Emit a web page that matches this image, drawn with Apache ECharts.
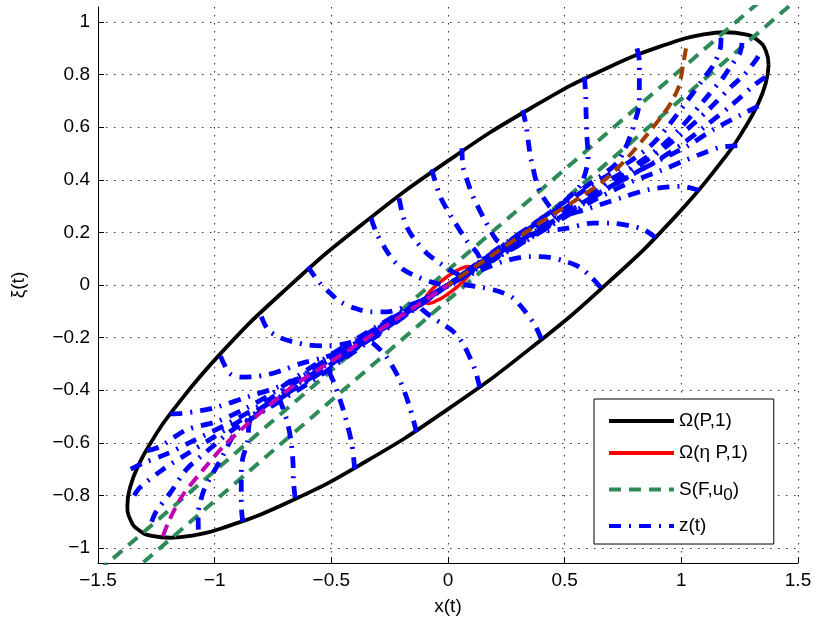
<!DOCTYPE html>
<html>
<head>
<meta charset="utf-8">
<script src="https://cdn.jsdelivr.net/npm/echarts@6/dist/echarts.min.js"></script>
<style>html,body{margin:0;padding:0;background:#fff}#c{width:817px;height:625px}</style>
</head>
<body>
<div id="c"></div>
<script>
// ---- axis ticks ----
const xTicks = [-1.5, -1, -0.5, 0, 0.5, 1, 1.5];
const yTicks = [-1, -0.8, -0.6, -0.4, -0.2, 0, 0.2, 0.4, 0.6, 0.8, 1];

// ---- Omega(P,1): outer ellipse ----
const ellipseOuter = [
  [1.374,0.837],[1.362,0.891],[1.327,0.931],[1.269,0.954],[1.190,0.961],[1.090,0.952],[0.972,0.926],
  [0.687,0.827],[0.356,0.673],[0,0.472],[-0.356,0.239],[-0.687,-0.010],[-0.972,-0.258],
  [-1.190,-0.489],[-1.269,-0.593],[-1.327,-0.686],[-1.362,-0.768],[-1.374,-0.837],[-1.362,-0.891],
  [-1.327,-0.931],[-1.269,-0.954],[-1.190,-0.961],[-1.090,-0.952],[-0.972,-0.926],[-0.687,-0.827],
  [-0.356,-0.673],[0,-0.472],[0.356,-0.239],[0.687,0.010],[0.972,0.258],[1.190,0.489],
  [1.269,0.593],[1.327,0.686],[1.362,0.768],[1.374,0.837]
];
// ---- Omega(eta P,1): small ellipse ----
const ellipseInner = [
  [0.100,0.061],[0.097,0.068],[0.087,0.070],[0.071,0.068],[0.050,0.060],[0.026,0.049],[0,0.034],
  [-0.026,0.017],[-0.050,-0.001],[-0.071,-0.019],[-0.087,-0.036],[-0.097,-0.050],[-0.100,-0.061],
  [-0.097,-0.068],[-0.087,-0.070],[-0.071,-0.068],[-0.050,-0.060],[-0.026,-0.049],[0,-0.034],
  [0.026,-0.017],[0.050,0.001],[0.071,0.019],[0.087,0.036],[0.097,0.050],[0.100,0.061]
];
// ---- S(F,u0): two parallel lines ----
const sLineUpper = [[-1.5,-1.089],[1.5,1.203]];
const sLineLower = [[-1.5,-1.203],[1.5,1.089]];

// ---- z(t) trajectories ----
const T1 = [[-0.60,0.07],[-0.555,0.013],[-0.50,-0.035],[-0.46,-0.064],[-0.40,-0.088],[-0.335,-0.102],[-0.263,-0.102],[-0.164,-0.076],[-0.078,-0.045],[0,0]];
const T2 = [[-0.33,0.255],[-0.306,0.197],[-0.27,0.14],[-0.235,0.095],[-0.19,0.058],[-0.135,0.032],[-0.078,0.013],[-0.03,0.002],[0,0]];
const T3 = [[-0.21,0.33],[-0.192,0.26],[-0.17,0.21],[-0.142,0.172],[-0.09,0.12],[-0.035,0.083],[0.02,0.05],[0.05,0.035],[0.02,0.012],[0,0]];
const T4 = [[-0.07,0.44],[-0.057,0.40],[-0.03,0.33],[0.014,0.26],[0.079,0.17],[0.135,0.10],[0.10,0.062],[0.05,0.03],[0,0]];
const T5 = [[0.06,0.52],[0.064,0.45],[0.085,0.39],[0.107,0.337],[0.157,0.248],[0.207,0.172],[0.24,0.15],[0.15,0.095],[0,0]];
const T6 = [[0.32,0.665],[0.335,0.604],[0.345,0.54],[0.356,0.477],[0.39,0.363],[0.434,0.30],[0.46,0.275],[0.3,0.19],[0,0]];
const T7 = [[0.585,0.79],[0.59,0.72],[0.592,0.64],[0.595,0.57],[0.60,0.49],[0.59,0.43],[0.56,0.37],[0.45,0.285],[0.2,0.13],[0,0]];
const T8 = [[0.81,0.90],[0.82,0.85],[0.82,0.757],[0.82,0.70],[0.79,0.59],[0.76,0.52],[0.72,0.46],[0.6,0.38],[0.3,0.19],[0,0]];
const R1 = [[1.17,0.94],[1.167,0.90],[1.14,0.84],[1.10,0.79],[1.025,0.70],[0.94,0.60],[0.875,0.535],[0.78,0.47],[0.6,0.37],[0.3,0.185],[0,0]];
const R2 = [[1.26,0.92],[1.25,0.88],[1.21,0.83],[1.18,0.79],[1.10,0.705],[1.00,0.60],[0.918,0.53],[0.8,0.455],[0.6,0.35],[0.3,0.17],[0,0]];
const R3 = [[1.33,0.87],[1.317,0.852],[1.27,0.80],[1.217,0.757],[1.125,0.674],[1.025,0.592],[0.918,0.515],[0.8,0.445],[0.6,0.335],[0.3,0.16],[0,0]];
const R4 = [[1.36,0.79],[1.317,0.763],[1.21,0.68],[1.103,0.604],[1.01,0.54],[0.904,0.477],[0.8,0.425],[0.6,0.325],[0.3,0.155],[0,0]];
const R5 = [[1.33,0.68],[1.26,0.649],[1.139,0.592],[1.025,0.528],[0.897,0.47],[0.78,0.415],[0.6,0.32],[0.3,0.15],[0,0]];
const R6 = [[1.24,0.53],[1.16,0.522],[1.025,0.477],[0.904,0.432],[0.78,0.39],[0.6,0.31],[0.3,0.15],[0,0]];
const R7 = [[1.075,0.36],[1.003,0.375],[0.861,0.363],[0.74,0.331],[0.6,0.29],[0.48,0.255],[0.3,0.165],[0,0]];
const ArcB = [[0.89,0.18],[0.84,0.21],[0.78,0.225],[0.70,0.235],[0.62,0.235],[0.507,0.215],[0.42,0.205],[0.35,0.19],[0.25,0.14],[0,0]];
const ArcA = [[0.655,-0.01],[0.612,0.032],[0.56,0.07],[0.507,0.089],[0.436,0.105],[0.35,0.108],[0.235,0.089],[0.15,0.06],[0.07,0.03],[0,0]];
const L1 = [[0.40,-0.205],[0.372,-0.152],[0.33,-0.10],[0.279,-0.05],[0.22,-0.025],[0.15,-0.01],[0.079,0.0],[0.03,0.005],[0,0]];
const L2 = [[0.136,-0.39],[0.114,-0.318],[0.064,-0.223],[0.02,-0.175],[-0.03,-0.145],[-0.08,-0.115],[-0.12,-0.08],[-0.08,-0.047],[0,0]];
const L3 = [[-0.135,-0.56],[-0.164,-0.464],[-0.206,-0.363],[-0.263,-0.274],[-0.32,-0.223],[-0.36,-0.21],[-0.2,-0.125],[0,0]];
const L4 = [[-0.40,-0.70],[-0.412,-0.605],[-0.448,-0.477],[-0.484,-0.382],[-0.51,-0.32],[-0.4,-0.245],[-0.2,-0.11],[0,0]];
const LV1 = [[-0.655,-0.81],[-0.662,-0.75],[-0.664,-0.68],[-0.672,-0.60],[-0.686,-0.53],[-0.705,-0.475],[-0.721,-0.43],[-0.6,-0.34],[-0.3,-0.165],[0,0]];
const LV2 = [[-0.88,-0.90],[-0.885,-0.85],[-0.886,-0.78],[-0.886,-0.72],[-0.88,-0.66],[-0.86,-0.60],[-0.84,-0.50],[-0.6,-0.365],[-0.3,-0.185],[0,0]];
const LV3 = [[-1.07,-0.93],[-1.071,-0.87],[-1.06,-0.82],[-1.043,-0.773],[-1.01,-0.72],[-0.979,-0.672],[-0.914,-0.564],[-0.87,-0.525],[-0.6,-0.375],[-0.3,-0.19],[0,0]];
const LC1 = [[-1.27,-0.90],[-1.25,-0.86],[-1.19,-0.79],[-1.12,-0.70],[-1.03,-0.63],[-0.93,-0.555],[-0.8,-0.48],[-0.6,-0.36],[-0.3,-0.18],[0,0]];
const LC2 = [[-1.345,-0.80],[-1.32,-0.77],[-1.22,-0.70],[-1.114,-0.64],[-1.007,-0.58],[-0.886,-0.513],[-0.75,-0.44],[-0.6,-0.35],[-0.3,-0.17],[0,0]];
const LC3 = [[-1.36,-0.70],[-1.30,-0.675],[-1.2,-0.64],[-1.086,-0.59],[-0.95,-0.53],[-0.8,-0.455],[-0.6,-0.33],[-0.3,-0.16],[0,0]];
const LC4 = [[-1.29,-0.63],[-1.236,-0.615],[-1.121,-0.551],[-0.993,-0.52],[-0.88,-0.475],[-0.75,-0.41],[-0.6,-0.32],[-0.3,-0.155],[0,0]];
const LL3 = [[-1.19,-0.49],[-1.143,-0.488],[-1.06,-0.478],[-0.986,-0.463],[-0.857,-0.425],[-0.736,-0.39],[-0.62,-0.345],[-0.45,-0.255],[0,0]];
const LL2 = [[-0.975,-0.27],[-0.935,-0.336],[-0.88,-0.35],[-0.836,-0.349],[-0.77,-0.34],[-0.707,-0.323],[-0.628,-0.298],[-0.55,-0.28],[-0.45,-0.25],[-0.3,-0.165],[0,0]];
const LL1 = [[-0.80,-0.12],[-0.771,-0.171],[-0.72,-0.20],[-0.664,-0.216],[-0.60,-0.228],[-0.52,-0.232],[-0.45,-0.225],[-0.35,-0.20],[-0.25,-0.155],[-0.15,-0.095],[0,0]];
// highlighted trajectories
const brownTraj = [[1.02,0.90],[1.012,0.86],[0.99,0.757],[0.96,0.70],[0.927,0.655],[0.848,0.566],[0.749,0.464],[0.664,0.394],[0.55,0.324],[0.4,0.24],[0.2,0.12],[0,0]];
const magentaTraj = [[-1.222,-0.955],[-1.2,-0.906],[-1.17,-0.85],[-1.136,-0.798],[-1.05,-0.703],[-0.964,-0.615],[-0.864,-0.532],[-0.764,-0.456],[-0.657,-0.38],[-0.5,-0.29],[-0.3,-0.175],[0,0]];

const blueTrajectories = [T1,T2,T3,T4,T5,T6,T7,T8,R1,R2,R3,R4,R5,R6,R7,ArcB,ArcA,L1,L2,L3,L4,LV1,LV2,LV3,LC1,LC2,LC3,LC4,LL3,LL2,LL1];

const legendNames = ['Ω(P,1)', 'Ω(η P,1)', 'S(F,u0)', 'z(t)'];

const FONT = 'Liberation Sans, Arial, Helvetica, sans-serif';
const minus = v => String(v).replace('-', '\u2212');

const series = [];
series.push({type:'line', name: legendNames[0], data: ellipseOuter, smooth: 0.5, symbol:'none',
  lineStyle:{color:'#000', width:3.8}, itemStyle:{color:'#000'}, z: 2});
series.push({type:'line', name: legendNames[1], data: ellipseInner, smooth: 0.5, symbol:'none',
  lineStyle:{color:'#ff0000', width:3.5}, itemStyle:{color:'#ff0000'}, z: 2});
[sLineUpper, sLineLower].forEach(d => series.push({type:'line', name: legendNames[2], data: d, symbol:'none',
  lineStyle:{color:'#2e8b57', width:4, type:[12,8]}, itemStyle:{color:'#2e8b57'}, z: 3}));
blueTrajectories.forEach(d => series.push({type:'line', name: legendNames[3], data: d, smooth: 0.3, symbol:'none',
  lineStyle:{color:'#0000ff', width:4.8, type:[12,8,2,8], cap:'butt'}, itemStyle:{color:'#0000ff'}, z: 4}));
series.push({type:'line', name:'z_brown', data: brownTraj, smooth:0.3, symbol:'none',
  lineStyle:{color:'#a03c00', width:4, type:[12,7]}, z: 4});
series.push({type:'line', name:'z_magenta', data: magentaTraj, smooth:0.3, symbol:'none',
  lineStyle:{color:'#c000b4', width:4, type:[12,7]}, z: 4});

const chart = echarts.init(document.getElementById('c'), null, {renderer:'canvas'});
chart.setOption({
  animation: false,
  backgroundColor: '#fff',
  grid: {left: 98, right: 19, top: 7, bottom: 62, containLabel: false},
  xAxis: {
    type: 'value', min: -1.5, max: 1.5, interval: 0.5,
    name: 'x(t)', nameLocation: 'middle', nameGap: 34,
    nameTextStyle: {fontFamily: FONT, fontSize: 19, color: '#000'},
    axisLine: {show: true, onZero: false, lineStyle: {color: '#000', width: 1}},
    axisTick: {show: true, inside: true, length: 6, lineStyle: {color: '#000'}},
    axisLabel: {fontFamily: FONT, fontSize: 19, color: '#000', margin: 8, formatter: minus},
    splitLine: {show: true, lineStyle: {color: '#333', width: 1.1, type: [1.5, 6.5]}}
  },
  yAxis: {
    type: 'value', min: -1.057, max: 1.057,
    name: 'ξ(t)', nameLocation: 'middle', nameGap: 70,
    nameTextStyle: {fontFamily: FONT, fontSize: 19, color: '#000'},
    axisLine: {show: true, onZero: false, lineStyle: {color: '#000', width: 1}},
    axisTick: {show: true, inside: true, length: 6, customValues: yTicks, lineStyle: {color: '#000'}},
    axisLabel: {fontFamily: FONT, fontSize: 19, color: '#000', margin: 8, customValues: yTicks, formatter: minus},
    splitLine: {show: true, lineStyle: {color: '#333', width: 1.1, type: [1.5, 6.5]}}
  },
  legend: {
    data: legendNames,
    orient: 'vertical', left: 594, top: 399,
    itemWidth: 65, itemHeight: 20, itemGap: 12,
    padding: [12, 26, 8, 13],
    backgroundColor: '#fff', borderColor: '#000', borderWidth: 1, borderRadius: 0,
    itemStyle: {opacity: 0},
    lineStyle: {width: 4},
    textStyle: {fontFamily: FONT, fontSize: 19, color: '#000', lineHeight: 20,
      rich: {sub: {fontFamily: FONT, fontSize: 17, color: '#000', padding: [12, 0, 0, 0], lineHeight: 10}}},
    formatter: n => n === 'S(F,u0)' ? 'S(F,u{sub|0})' : n
  },
  series: series
});
</script>
</body>
</html>
